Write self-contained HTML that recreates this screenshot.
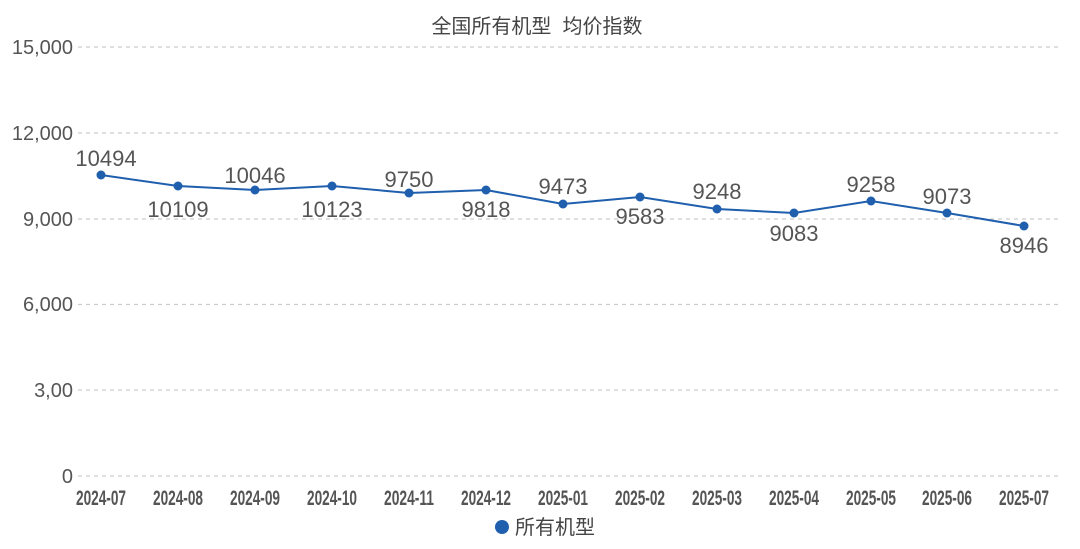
<!DOCTYPE html>
<html><head><meta charset="utf-8"><style>
html,body{margin:0;padding:0;background:#fff;}
svg{display:block;font-family:"Liberation Sans","Noto Sans CJK SC",sans-serif;}
</style></head><body>
<svg width="1080" height="549" viewBox="0 0 1080 549">
<text x="537" y="33" text-anchor="middle" font-size="20" fill="#444" xml:space="preserve">全国所有机型  均价指数</text>
<g stroke="#ccc" stroke-width="1.2" stroke-dasharray="4,4">
<line x1="78" y1="47" x2="1062" y2="47"/>
<line x1="78" y1="133" x2="1062" y2="133"/>
<line x1="78" y1="219" x2="1062" y2="219"/>
<line x1="78" y1="304.5" x2="1062" y2="304.5"/>
<line x1="78" y1="390" x2="1062" y2="390"/>
<line x1="78" y1="476" x2="1062" y2="476"/>
</g>
<g font-size="20" fill="#555" text-anchor="end">
<text x="73" y="54">15,000</text>
<text x="73" y="140">12,000</text>
<text x="73" y="226">9,000</text>
<text x="73" y="311">6,000</text>
<text x="73" y="397">3,00</text>
<text x="73" y="483">0</text>
</g>
<g font-size="21" font-weight="bold" fill="#555" text-anchor="middle" font-family="'Liberation Sans Narrow','Liberation Sans',sans-serif">
<text x="101" y="505" textLength="50" lengthAdjust="spacingAndGlyphs">2024-07</text>
<text x="178" y="505" textLength="50" lengthAdjust="spacingAndGlyphs">2024-08</text>
<text x="255" y="505" textLength="50" lengthAdjust="spacingAndGlyphs">2024-09</text>
<text x="332" y="505" textLength="50" lengthAdjust="spacingAndGlyphs">2024-10</text>
<text x="409" y="505" textLength="50" lengthAdjust="spacingAndGlyphs">2024-11</text>
<text x="486" y="505" textLength="50" lengthAdjust="spacingAndGlyphs">2024-12</text>
<text x="563" y="505" textLength="50" lengthAdjust="spacingAndGlyphs">2025-01</text>
<text x="640" y="505" textLength="50" lengthAdjust="spacingAndGlyphs">2025-02</text>
<text x="717" y="505" textLength="50" lengthAdjust="spacingAndGlyphs">2025-03</text>
<text x="794" y="505" textLength="50" lengthAdjust="spacingAndGlyphs">2025-04</text>
<text x="871" y="505" textLength="50" lengthAdjust="spacingAndGlyphs">2025-05</text>
<text x="947" y="505" textLength="50" lengthAdjust="spacingAndGlyphs">2025-06</text>
<text x="1024" y="505" textLength="50" lengthAdjust="spacingAndGlyphs">2025-07</text>
</g>
<polyline fill="none" stroke="#1f5fad" stroke-width="2" points="101,175 178,186 255,190 332,186 409,193 486,190 563,204 640,197 717,209 794,213 871,201 947,213 1024,226"/>
<g fill="#1f5fad">
<circle cx="101" cy="175" r="4.5"/><circle cx="178" cy="186" r="4.5"/><circle cx="255" cy="190" r="4.5"/>
<circle cx="332" cy="186" r="4.5"/><circle cx="409" cy="193" r="4.5"/><circle cx="486" cy="190" r="4.5"/>
<circle cx="563" cy="204" r="4.5"/><circle cx="640" cy="197" r="4.5"/><circle cx="717" cy="209" r="4.5"/>
<circle cx="794" cy="213" r="4.5"/><circle cx="871" cy="201" r="4.5"/><circle cx="947" cy="213" r="4.5"/>
<circle cx="1024" cy="226" r="4.5"/>
</g>
<g font-size="22" fill="#555" text-anchor="middle">
<text x="106" y="166">10494</text>
<text x="178" y="217">10109</text>
<text x="255" y="183">10046</text>
<text x="332" y="217">10123</text>
<text x="409" y="187">9750</text>
<text x="486" y="217">9818</text>
<text x="563" y="194">9473</text>
<text x="640" y="224">9583</text>
<text x="717" y="199">9248</text>
<text x="794" y="241">9083</text>
<text x="871" y="192">9258</text>
<text x="947" y="204">9073</text>
<text x="1024" y="253">8946</text>
</g>
<circle cx="502" cy="527" r="7" fill="#1f5fad"/>
<text x="515" y="534" font-size="20" fill="#444">所有机型</text>
</svg>
</body></html>
